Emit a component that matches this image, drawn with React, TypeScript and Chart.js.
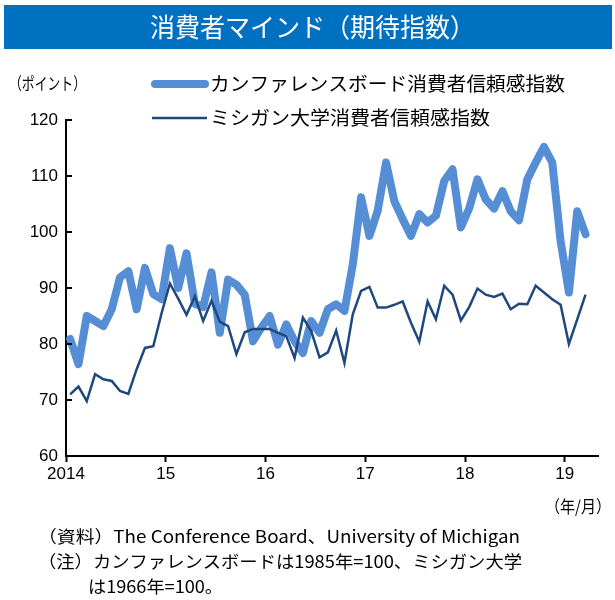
import React, { useEffect, useRef } from "react";
import { Chart, registerables } from "chart.js";

Chart.register(...registerables);

const months: string[] = [];
for (let y = 2014; y <= 2019; y++) for (let m = 1; m <= 12; m++) months.push(`${y}/${m}`);

const conferenceBoard: (number | null)[] = [
  80.9, 76.4, 85.0, 84.1, 83.2, 86.2, 91.9, 93.0, 86.2, 93.6, 88.9, 88.0,
  97.1, 90.0, 96.2, 87.2, 86.6, 92.8, 82.0, 91.5, 90.6, 88.8, 80.5, 82.9,
  85.0, 79.9, 83.5, 80.5, 78.4, 84.1, 82.0, 86.2, 87.1, 85.9, 94.2, 106.2,
  99.3, 103.8, 112.4, 105.5, 102.3, 99.3, 103.2, 101.7, 102.9, 109.1, 111.2, 100.8,
  104.2, 109.4, 105.8, 104.2, 107.3, 103.7, 102.1, 109.4, 112.4, 115.2, 112.4, 98.4,
  89.2, 103.7, 99.6,
];

const michigan: (number | null)[] = [
  71.0, 72.4, 69.8, 74.6, 73.7, 73.4, 71.6, 71.1, 75.5, 79.3, 79.6, 85.5,
  90.8, 88.1, 85.2, 88.5, 84.1, 87.7, 84.0, 83.2, 78.2, 82.1, 82.7, 82.7,
  82.7, 82.0, 81.4, 77.5, 84.7, 82.3, 77.6, 78.5, 82.4, 76.6, 85.3, 89.5,
  90.2, 86.5, 86.5, 87.0, 87.6, 83.8, 80.4, 87.6, 84.4, 90.4, 88.8, 84.2,
  86.6, 89.9, 88.8, 88.4, 89.0, 86.2, 87.2, 87.1, 90.4, 89.2, 88.0, 87.0,
  80.0, 84.4, 88.8,
];

const yearLabels = ["2014", "15", "16", "17", "18", "19"];
const yTicks = [60, 70, 80, 90, 100, 110, 120];
const totalMonths = 64;

const title = "消費者マインド（期待指数）";
const seriesNames = ["カンファレンスボード消費者信頼感指数", "ミシガン大学消費者信頼感指数"];
const unitLabel = "（ポイント）";
const xUnitLabel = "（年/月）";
const notes = [
  "（資料）The Conference Board、University of Michigan",
  "（注）カンファレンスボードは1985年=100、ミシガン大学",
  "は1966年=100。",
];

const CB_COLOR = "#558ED5";
const MI_COLOR = "#1F497D";
const JP = '"Noto Sans CJK JP", "Noto Sans", sans-serif';
const NUM = '"Liberation Sans", Arial, sans-serif';

function fitText(ctx: CanvasRenderingContext2D, text: string, x: number, y: number, w: number, font: string, color: string) {
  ctx.save();
  ctx.font = font;
  ctx.fillStyle = color;
  ctx.textBaseline = "middle";
  ctx.textAlign = "left";
  const m = ctx.measureText(text).width;
  ctx.translate(x, y);
  ctx.scale(w / m, 1);
  ctx.fillText(text, 0, 0);
  ctx.restore();
}

const decoPlugin = {
  id: "deco",
  beforeDraw(chart: any) {
    const ctx = chart.ctx;
    ctx.save();
    ctx.fillStyle = "#ffffff";
    ctx.fillRect(0, 0, chart.width, chart.height);
    ctx.restore();
  },
  afterDraw(chart: any) {
    const ctx: CanvasRenderingContext2D = chart.ctx;
    const ys = chart.scales.y;
    const area = chart.chartArea;
    // title bar
    ctx.save();
    ctx.fillStyle = "#0070C0";
    ctx.fillRect(4, 5, 608, 44);
    ctx.restore();
    fitText(ctx, title, 150, 27, 325, `26px ${JP}`, "#ffffff");
    // unit label
    fitText(ctx, unitLabel, 9, 84, 77, `17px ${JP}`, "#000000");
    // legend
    ctx.save();
    ctx.lineCap = "round";
    ctx.strokeStyle = CB_COLOR;
    ctx.lineWidth = 8;
    ctx.beginPath();
    ctx.moveTo(155, 84);
    ctx.lineTo(205, 84);
    ctx.stroke();
    ctx.lineCap = "butt";
    ctx.strokeStyle = MI_COLOR;
    ctx.lineWidth = 2.5;
    ctx.beginPath();
    ctx.moveTo(152, 118);
    ctx.lineTo(207, 118);
    ctx.stroke();
    ctx.restore();
    fitText(ctx, seriesNames[0], 210, 84, 355, `19px ${JP}`, "#000000");
    fitText(ctx, seriesNames[1], 210, 118, 280, `19px ${JP}`, "#000000");
    // inner y ticks
    ctx.save();
    ctx.strokeStyle = "#000000";
    ctx.lineWidth = 2;
    for (const v of yTicks) {
      const py = Math.round(ys.getPixelForValue(v));
      ctx.beginPath();
      ctx.moveTo(area.left, py);
      ctx.lineTo(area.left + 6, py);
      ctx.stroke();
    }
    ctx.restore();
    // x unit
    fitText(ctx, xUnitLabel, 545, 507, 66, `17px ${JP}`, "#000000");
    // notes
    fitText(ctx, notes[0], 38, 537, 482, `17px ${JP}`, "#000000");
    fitText(ctx, notes[1], 38, 562, 484, `17px ${JP}`, "#000000");
    fitText(ctx, notes[2], 88, 587, 135, `17px ${JP}`, "#000000");
  },
};

export default function App() {
  const ref = useRef<HTMLCanvasElement | null>(null);
  useEffect(() => {
    if (!ref.current) return;
    const toPts = (arr: (number | null)[]) => arr.map((v, i) => ({ x: i + 0.5, y: v }));
    const chart = new Chart(ref.current, {
      type: "line",
      data: {
        datasets: [
          {
            label: seriesNames[1],
            data: toPts(michigan) as any,
            borderColor: MI_COLOR,
            borderWidth: 2.5,
            pointRadius: 0,
            tension: 0,
            borderJoinStyle: "miter",
            order: 1,
          },
          {
            label: seriesNames[0],
            data: toPts(conferenceBoard) as any,
            borderColor: CB_COLOR,
            borderWidth: 8,
            pointRadius: 0,
            tension: 0,
            borderJoinStyle: "round",
            borderCapStyle: "round",
            order: 2,
          },
        ],
      },
      options: {
        animation: false,
        responsive: false,
        devicePixelRatio: 1,
        layout: { padding: { top: 120, right: 17, left: 0, bottom: 0 } },
        plugins: { legend: { display: false }, tooltip: { enabled: false }, title: { display: false } },
        scales: {
          x: {
            type: "linear",
            min: 0,
            max: totalMonths,
            afterFit: (s: any) => { s.height = 144; },
            afterBuildTicks: (s: any) => {
              s.ticks = yearLabels.map((_, i) => ({ value: i * 12 }));
            },
            ticks: {
              includeBounds: false,
              autoSkip: false,
              maxRotation: 0,
              padding: 2,
              color: "#000000",
              font: { family: NUM, size: 17 },
              callback: (v: any) => yearLabels[Math.round(Number(v) / 12)] ?? "",
            },
            grid: { drawOnChartArea: false, drawTicks: true, tickLength: 6, tickWidth: 2, color: "#000000" },
            border: { display: true, color: "#000000", width: 2 },
          },
          y: {
            min: 60,
            max: 120,
            afterFit: (s: any) => { s.width = 66; },
            afterBuildTicks: (s: any) => {
              s.ticks = yTicks.map((v) => ({ value: v }));
            },
            ticks: {
              padding: 8,
              color: "#000000",
              font: { family: NUM, size: 17 },
            },
            grid: { display: true, drawOnChartArea: false, drawTicks: false, color: "#000000" },
            border: { display: true, color: "#000000", width: 2 },
          },
        },
      },
      plugins: [decoPlugin],
    });
    return () => chart.destroy();
  }, []);
  return (
    <div style={{ position: "absolute", left: 0, top: 0, width: 615, height: 600 }}>
      <canvas ref={ref} width={615} height={600} style={{ width: 615, height: 600, display: "block" }} />
    </div>
  );
}
